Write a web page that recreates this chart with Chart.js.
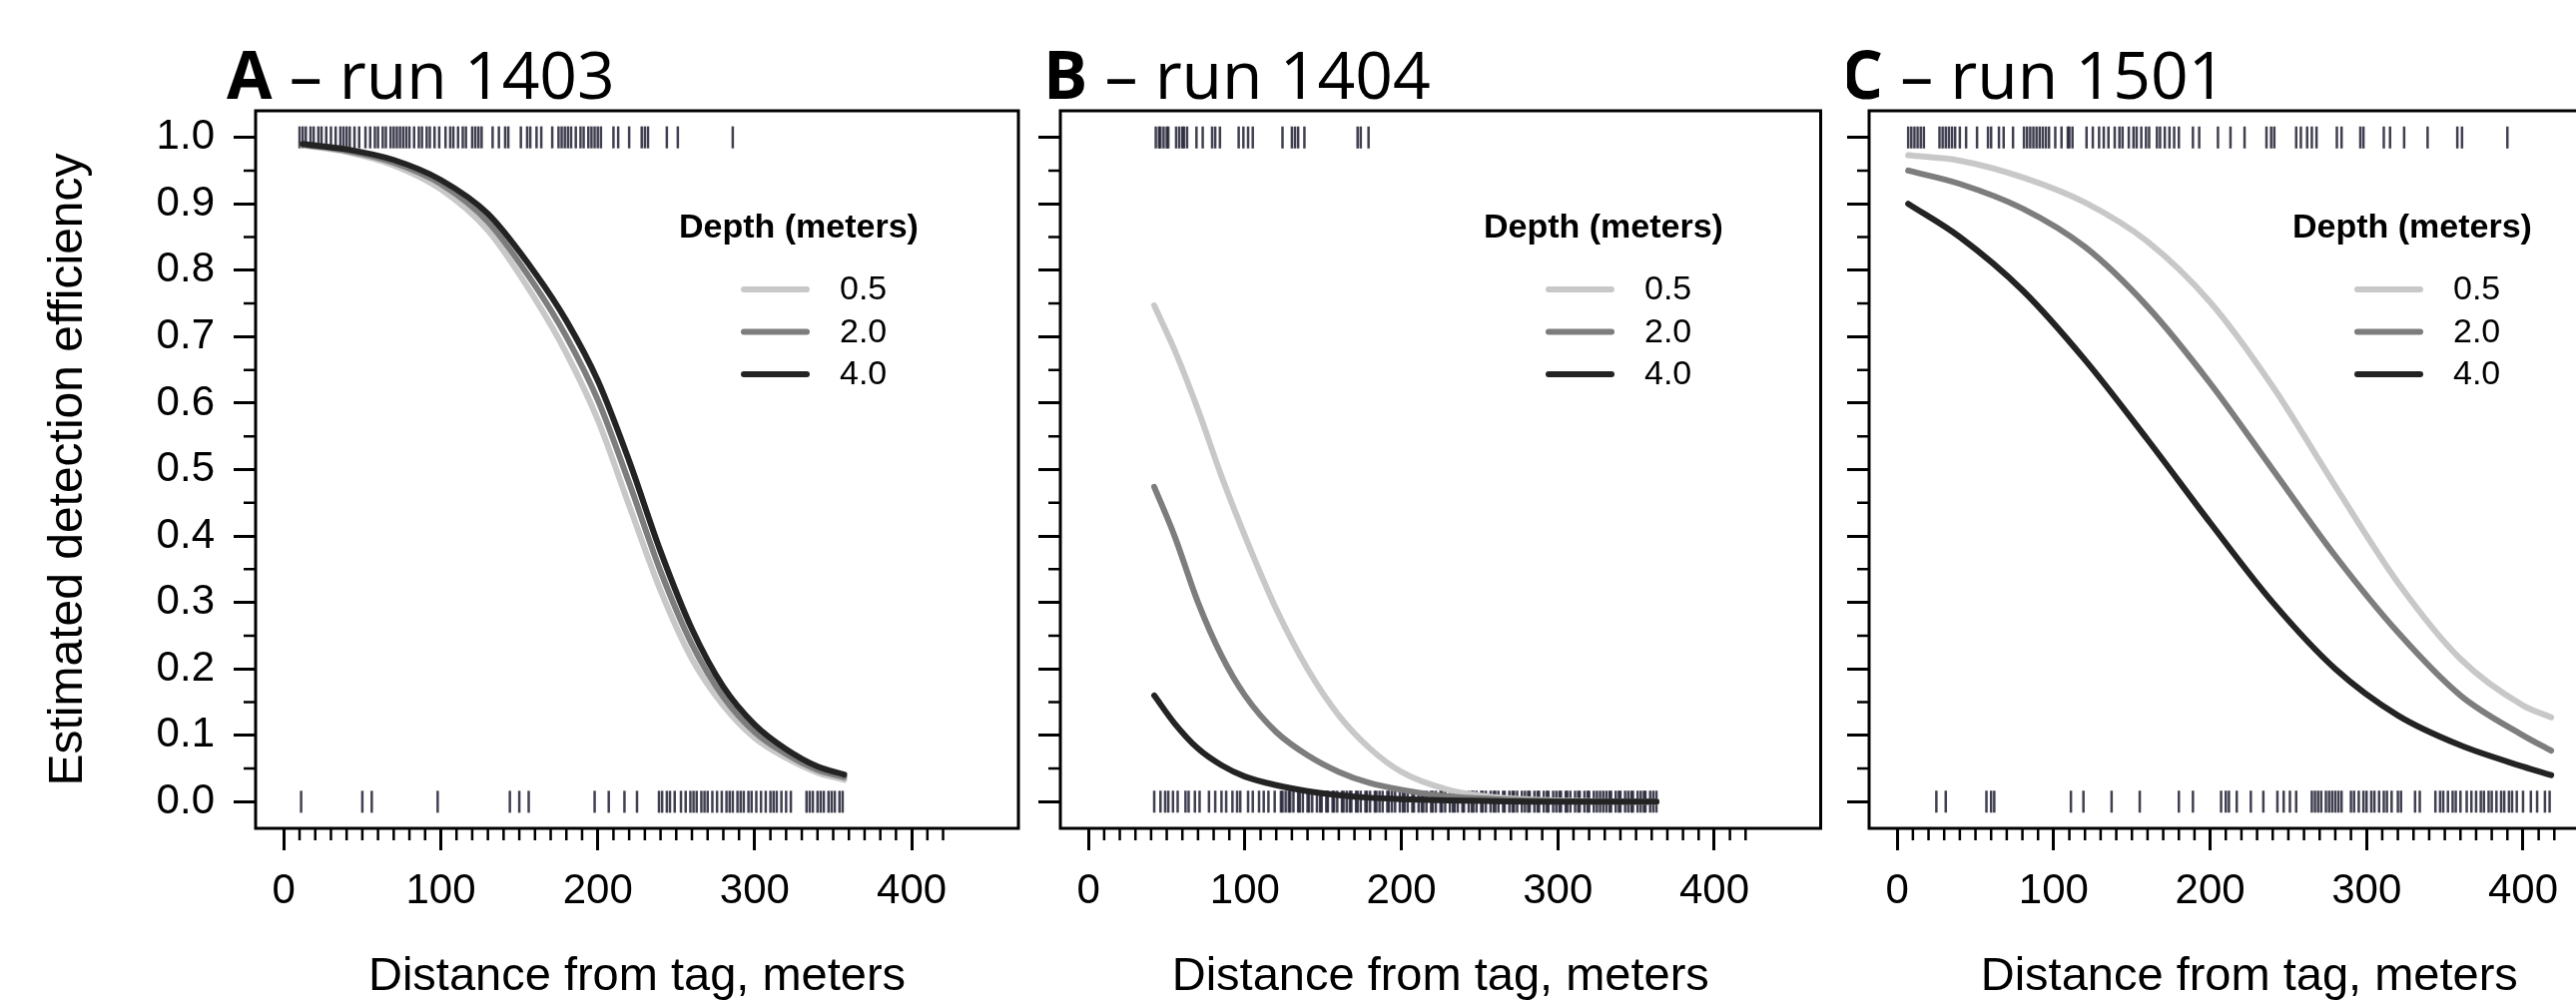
<!DOCTYPE html>
<html>
<head>
<meta charset="utf-8">
<script src="https://cdn.jsdelivr.net/npm/chart.js@4.4.1/dist/chart.umd.min.js"></script>
<style>
  html, body { margin: 0; padding: 0; background: #fff; overflow: hidden; }
  body { width: 2580px; height: 1007px; position: relative; }
  canvas { position: absolute; top: 0; }
</style>
</head>
<body>
<canvas id="panelA" width="1040" height="1007" style="left:0px"></canvas>
<canvas id="panelB" width="797" height="1007" style="left:1040px"></canvas>
<canvas id="panelC" width="797" height="1007" style="left:1850px"></canvas>
<script>
// depth classes shown in every legend
const depthLabels = ['0.5', '2.0', '4.0'];
const depthColors = ['rgb(200,200,200)', 'rgb(125,125,125)', 'rgb(35,35,35)'];

const distTicks = [0, 100, 200, 300, 400];
const effTicks = [0, 0.1, 0.2, 0.3, 0.4, 0.5, 0.6, 0.7, 0.8, 0.9, 1.0];

// A - run 1403
const aDist = [12, 40, 70, 100, 130, 160, 180, 200, 220, 240, 260, 280, 300, 320, 340, 357];
const aShallow = [0.988, 0.978, 0.958, 0.922, 0.86, 0.757, 0.675, 0.575, 0.446, 0.318, 0.215, 0.145, 0.096, 0.066, 0.044, 0.033];
const aMid = [0.989, 0.98, 0.962, 0.93, 0.873, 0.777, 0.70, 0.605, 0.48, 0.347, 0.237, 0.158, 0.105, 0.072, 0.048, 0.037];
const aDeep = [0.99, 0.982, 0.966, 0.936, 0.885, 0.796, 0.724, 0.634, 0.513, 0.377, 0.26, 0.173, 0.116, 0.079, 0.053, 0.041];
const aDetected = [10, 12, 14, 17, 19, 22, 24, 27, 30, 33, 36, 38, 40, 42, 45, 48, 52, 55, 58, 60, 63, 65, 68, 70,
  72, 74, 76, 78, 80, 83, 86, 88, 91, 93, 96, 99, 103, 106, 108, 111, 114, 116, 120, 122, 124, 126, 133, 137,
  141, 143, 151, 155, 157, 161, 164, 171, 175, 177, 179, 181, 183, 186, 189, 191, 194, 196, 198, 200, 202,
  210, 213, 220, 228, 230, 232, 244, 251, 286];
const aMissed = [11, 50, 56, 98, 144, 150, 156, 198, 207, 217, 225, 239, 241, 244, 246, 249, 253, 256, 259, 261,
  263, 266, 268, 270, 273, 276, 279, 282, 284, 286, 289, 291, 293, 296, 298, 301, 304, 307, 310, 312, 314, 317,
  320, 323, 333, 335, 337, 340, 342, 344, 347, 349, 351, 354, 356];

// B - run 1404
const bDist = [42, 55, 70, 85, 100, 120, 140, 160, 180, 200, 230, 260, 300, 363];
const bShallow = [0.747, 0.68, 0.59, 0.49, 0.40, 0.29, 0.20, 0.13, 0.08, 0.045, 0.018, 0.007, 0.002, 0.0];
const bMid = [0.474, 0.40, 0.30, 0.22, 0.16, 0.105, 0.07, 0.045, 0.028, 0.018, 0.008, 0.004, 0.001, 0.0];
const bDeep = [0.16, 0.118, 0.08, 0.055, 0.038, 0.025, 0.016, 0.01, 0.006, 0.004, 0.002, 0.001, 0.0, 0.0];
const bDetected = [43, 45, 46, 48, 50, 51, 56, 58, 60, 61, 63, 69, 73, 79, 81, 84, 96, 99, 102, 105, 124, 130,
  132, 134, 138, 172, 174, 179];
const bMissed = [42, 46, 49, 51, 54, 57, 62, 64, 68, 71, 77, 81, 85, 88, 92, 95, 97, 102, 105, 109, 112, 115,
  119, 123, 124, 126, 128, 129, 131, 134, 135, 137, 140, 141, 143, 146, 148, 149, 152, 153, 156, 157, 159, 162,
  163, 165, 167, 168, 171, 172, 174, 177, 178, 180, 183, 184, 186, 188, 191, 192, 194, 196, 199, 201, 202, 204,
  207, 208, 211, 213, 214, 216, 219, 220, 222, 225, 226, 228, 231, 233, 234, 236, 239, 240, 243, 245, 246, 248,
  251, 252, 254, 257, 259, 260, 262, 265, 266, 269, 271, 272, 274, 277, 279, 281, 282, 285, 287, 288, 291, 293,
  294, 297, 299, 301, 302, 305, 306, 308, 311, 313, 314, 317, 319, 320, 323, 325, 327, 329, 331, 333, 334, 337,
  339, 340, 343, 345, 347, 348, 351, 353, 355, 356, 359, 361, 363];

// C - run 1501
const cDist = [7, 40, 80, 120, 160, 200, 240, 280, 320, 360, 400, 418];
const cShallow = [0.973, 0.965, 0.94, 0.902, 0.843, 0.752, 0.625, 0.475, 0.33, 0.215, 0.145, 0.127];
const cMid = [0.95, 0.93, 0.893, 0.835, 0.745, 0.63, 0.50, 0.37, 0.255, 0.16, 0.10, 0.077];
const cDeep = [0.90, 0.85, 0.77, 0.665, 0.545, 0.42, 0.30, 0.20, 0.13, 0.085, 0.053, 0.04];
const cDetected = [7, 9, 11, 13, 15, 17, 27, 29, 31, 33, 35, 37, 40, 44, 51, 58, 60, 65, 68, 74, 81, 83, 85, 87,
  89, 91, 93, 95, 97, 101, 105, 109, 110, 112, 121, 125, 129, 132, 135, 139, 142, 144, 148, 151, 153, 156, 159,
  161, 166, 168, 171, 174, 177, 180, 189, 193, 205, 213, 222, 236, 239, 241, 255, 258, 262, 265, 268, 281, 284,
  296, 298, 311, 315, 324, 339, 358, 361, 390];
const cMissed = [25, 31, 57, 60, 62, 111, 119, 137, 155, 180, 189, 207, 210, 212, 217, 226, 234, 243, 247, 251,
  255, 265, 267, 269, 271, 274, 276, 278, 280, 282, 284, 290, 292, 295, 298, 300, 303, 305, 308, 311, 313, 316,
  320, 322, 331, 334, 344, 347, 349, 352, 355, 357, 360, 364, 367, 370, 373, 375, 378, 380, 383, 386, 388, 391,
  393, 396, 400, 405, 409, 414, 417];

const FONT = '"Liberation Sans", Arial, sans-serif';

// box, minor ticks, panel title and depth legend, drawn the way the R figure has them
const rStyle = {
  id: 'rStyle',
  afterDraw(chart, args, opts) {
    const { ctx, chartArea: a, scales: { x, y } } = chart;
    ctx.save();
    ctx.strokeStyle = '#000';
    ctx.lineWidth = 3;
    ctx.strokeRect(a.left, a.top, a.right - a.left, a.bottom - a.top);

    ctx.lineWidth = 2.5;
    ctx.beginPath();
    for (let v = 10; v <= 420; v += 10) {
      if (v % 100 === 0) continue;
      const px = x.getPixelForValue(v);
      ctx.moveTo(px, a.bottom);
      ctx.lineTo(px, a.bottom + 12);
    }
    for (let i = 0; i < 10; i++) {
      const py = y.getPixelForValue(0.05 + i * 0.1);
      ctx.moveTo(a.left, py);
      ctx.lineTo(a.left - 12, py);
    }
    ctx.stroke();

    // panel title: bold letter, then the run
    ctx.fillStyle = '#000';
    ctx.textBaseline = 'alphabetic';
    ctx.textAlign = 'left';
    ctx.font = 'bold 66px "Open Sans", sans-serif';
    const tx = a.left + opts.titleDx;
    ctx.fillText(opts.letter, tx, 99);
    const w = ctx.measureText(opts.letter).width;
    ctx.font = '66px "Open Sans", sans-serif';
    ctx.fillText(' \u2013 run ' + opts.run, tx + w, 99);

    // legend
    ctx.font = 'bold 34px ' + FONT;
    ctx.textBaseline = 'middle';
    ctx.fillText('Depth (meters)', a.left + 424, 229);
    ctx.font = '34px ' + FONT;
    ctx.lineWidth = 6;
    ctx.lineCap = 'round';
    depthLabels.forEach((lab, i) => {
      const ly = 290 + i * 42.5;
      ctx.strokeStyle = depthColors[i];
      ctx.beginPath();
      ctx.moveTo(a.left + 489, ly);
      ctx.lineTo(a.left + 552, ly);
      ctx.stroke();
      ctx.fillText(lab, a.left + 585, ly + 1);
    });
    ctx.restore();
  }
};

function curve(xs, ys, color) {
  return {
    data: xs.map((x, i) => ({ x, y: ys[i] })),
    showLine: true,
    borderColor: color,
    borderWidth: 6,
    borderCapStyle: 'round',
    pointRadius: 0,
    cubicInterpolationMode: 'monotone'
  };
}

function rug(xs, level) {
  return {
    data: xs.map(x => ({ x, y: level })),
    showLine: false,
    pointStyle: 'line',
    pointRotation: 90,
    pointRadius: 11,
    pointBorderWidth: 2.5,
    pointBorderColor: 'rgba(30,30,50,0.85)'
  };
}

function makePanel(id, p) {
  return new Chart(document.getElementById(id), {
    type: 'scatter',
    data: {
      datasets: [
        curve(p.dist, p.deep, depthColors[2]),
        curve(p.dist, p.mid, depthColors[1]),
        curve(p.dist, p.shallow, depthColors[0]),
        rug(p.detected, 1),
        rug(p.missed, 0)
      ]
    },
    options: {
      responsive: false,
      animation: false,
      events: [],
      layout: { padding: { left: 0, top: 111, right: p.padRight, bottom: 0 } },
      plugins: {
        legend: { display: false },
        tooltip: { enabled: false },
        rStyle: { letter: p.letter, run: p.run, titleDx: p.titleDx }
      },
      scales: {
        x: {
          type: 'linear',
          min: -18,
          max: 468,
          afterBuildTicks: s => { s.ticks = distTicks.map(v => ({ value: v })); },
          afterFit: s => { s.height = 177; },
          border: { display: false },
          grid: { drawOnChartArea: false, drawTicks: true, tickLength: 22, tickWidth: 3, tickColor: '#000' },
          ticks: { color: '#000', padding: 16, autoSkip: false, maxRotation: 0, font: { family: FONT, size: 42 } },
          title: {
            display: true,
            text: 'Distance from tag, meters',
            color: '#000',
            font: { family: FONT, size: 47 },
            padding: { top: 2, bottom: 0 }
          }
        },
        y: {
          type: 'linear',
          min: -0.04,
          max: 1.04,
          afterBuildTicks: s => { s.ticks = effTicks.map(v => ({ value: v })); },
          afterFit: s => { s.width = p.yWidth; },
          border: { display: false },
          grid: { drawOnChartArea: false, drawTicks: true, tickLength: 22, tickWidth: 3, tickColor: '#000' },
          ticks: {
            color: '#000',
            padding: 19,
            font: { family: FONT, size: 42 },
            callback: v => (p.yLabels ? v.toFixed(1) : '')
          },
          title: {
            display: p.yLabels,
            text: 'Estimated detection efficiency',
            color: '#000',
            font: { family: FONT, size: 48 },
            padding: { top: 40, bottom: 0 }
          }
        }
      }
    },
    plugins: [rStyle]
  });
}

makePanel('panelA', {
  letter: 'A', run: '1403', titleDx: -29, yWidth: 256, yLabels: true, padRight: 20,
  dist: aDist, shallow: aShallow, mid: aMid, deep: aDeep, detected: aDetected, missed: aMissed
});
makePanel('panelB', {
  letter: 'B', run: '1404', titleDx: -17, yWidth: 22, yLabels: false, padRight: 10,
  dist: bDist, shallow: bShallow, mid: bMid, deep: bDeep, detected: bDetected, missed: bMissed
});
makePanel('panelC', {
  letter: 'C', run: '1501', titleDx: -28, yWidth: 22, yLabels: false, padRight: 10,
  dist: cDist, shallow: cShallow, mid: cMid, deep: cDeep, detected: cDetected, missed: cMissed
});
</script>
</body>
</html>
